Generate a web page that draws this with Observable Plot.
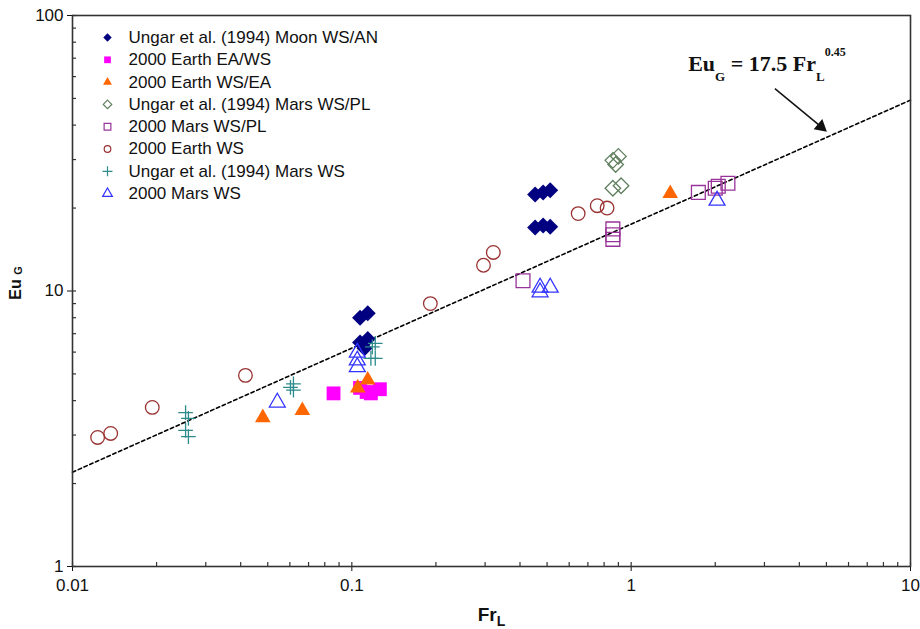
<!DOCTYPE html>
<html><head><meta charset="utf-8">
<script src="https://cdn.jsdelivr.net/npm/d3@7"></script>
<script src="https://cdn.jsdelivr.net/npm/@observablehq/plot@0.6"></script>
<style>body{margin:0;background:#fff}</style>
</head><body><div id="chart"></div>
<script>
// ---- data ----
const seriesNames = [
  "Ungar et al. (1994) Moon WS/AN",
  "2000 Earth EA/WS",
  "2000 Earth WS/EA",
  "Ungar et al. (1994) Mars WS/PL",
  "2000 Mars WS/PL",
  "2000 Earth WS",
  "Ungar et al. (1994) Mars WS",
  "2000 Mars WS"
];
const moonWSAN_x = [0.107, 0.114, 0.107, 0.114, 0.111, 0.453, 0.484, 0.513, 0.453, 0.484, 0.513];
const moonWSAN_y = [8.0, 8.3, 6.5, 6.7, 6.2, 22.4, 22.8, 23.2, 17.0, 17.3, 17.1];
const earthEAWS_x = [0.086, 0.107, 0.113, 0.117, 0.126];
const earthEAWS_y = [4.25, 4.45, 4.3, 4.25, 4.4];
const earthWSEA_x = [0.048, 0.0665, 0.105, 0.114, 1.38];
const earthWSEA_y = [3.47, 3.68, 4.45, 4.75, 22.6];
const ungarMarsWSPL_x = [0.86, 0.90, 0.88, 0.86, 0.92];
const ungarMarsWSPL_y = [29.8, 30.8, 28.8, 23.6, 24.1];
const marsWSPL_x = [0.41, 0.86, 0.86, 0.86, 1.74, 2.0, 2.05, 2.22];
const marsWSPL_y = [10.9, 16.8, 16.0, 15.4, 22.8, 23.6, 24.0, 24.6];
const earthWS_x = [0.0123, 0.0137, 0.0193, 0.0416, 0.191, 0.296, 0.321, 0.646, 0.756, 0.82];
const earthWS_y = [2.94, 3.04, 3.78, 4.94, 9.0, 12.4, 13.8, 19.1, 20.4, 20.0];
const ungarMarsWS_x = [0.0254, 0.026, 0.0254, 0.026, 0.0603, 0.0618, 0.0618, 0.1184, 0.1213, 0.1213, 0.117];
const ungarMarsWS_y = [3.62, 3.45, 3.12, 2.96, 4.47, 4.37, 4.6, 6.27, 6.45, 5.69, 5.69];
const marsWS_x = [0.0541, 0.1046, 0.1046, 0.1046, 0.472, 0.513, 0.472, 2.03];
const marsWS_y = [3.94, 5.98, 5.6, 5.3, 10.3, 10.3, 9.9, 21.3];

const fitLine_x = [0.01, 10];
const fitLine_y = [2.2, 49.3];

const xTicks = [0.01, 0.1, 1, 10];
const xTickLabels = ["0.01", "0.1", "1", "10"];
const yTicks = [1, 10, 100];
const yTickLabels = ["1", "10", "100"];
const xMinor = [0.02,0.03,0.04,0.05,0.06,0.07,0.08,0.09,0.2,0.3,0.4,0.5,0.6,0.7,0.8,0.9,2,3,4,5,6,7,8,9];
const yMinor = [2,3,4,5,6,7,8,9,20,30,40,50,60,70,80,90];

const equationText = "EuG = 17.5 FrL0.45";
const eqAnchor = {x: 1.60, y: 63};
const arrowFrom = {x: 3.27, y: 54.3};
const arrowTo = {x: 4.78, y: 39.5};

// ---- styles ----
const styles = [
  {symbol: "diamond2", color: "#000080", filled: true,  r: 7.2, lr: 3.8},
  {symbol: "square",   color: "#ff00ff", filled: true,  r: 7.8, lr: 3.8},
  {symbol: "triangle", color: "#ff6600", filled: true,  r: 5.8, lr: 3.3},
  {symbol: "diamond2", color: "#5f7f5f", filled: false, r: 7.0, lr: 3.8},
  {symbol: "square",   color: "#993399", filled: false, r: 7.8, lr: 3.8},
  {symbol: "circle",   color: "#993333", filled: false, r: 6.8, lr: 3.3},
  {symbol: "plus",     color: "#2e8b8b", filled: false, r: 4.8, lr: 3.3},
  {symbol: "triangle", color: "#3333ff", filled: false, r: 5.9, lr: 3.6}
];
const xs = [moonWSAN_x, earthEAWS_x, earthWSEA_x, ungarMarsWSPL_x, marsWSPL_x, earthWS_x, ungarMarsWS_x, marsWS_x];
const ys = [moonWSAN_y, earthEAWS_y, earthWSEA_y, ungarMarsWSPL_y, marsWSPL_y, earthWS_y, ungarMarsWS_y, marsWS_y];

const W = 920, H = 629, mL = 72, mR = 10, mT = 15, mB = 63;
const plotW = W - mL - mR, plotH = H - mT - mB;

const dotMarks = [];
const legendMarks = [];
seriesNames.forEach((name, i) => {
  const s = styles[i];
  const rows = xs[i].map((x, j) => ({x, y: ys[i][j]}));
  dotMarks.push(Plot.dot(rows, {
    x: "x", y: "y", symbol: s.symbol, r: s.r,
    fill: s.filled ? s.color : "none",
    stroke: s.filled ? "none" : s.color,
    strokeWidth: s.filled ? 0 : 1.3
  }));
  const dy = 22 + 22.3 * i;
  legendMarks.push(Plot.dot([name], {
    frameAnchor: "top-left", dx: 35, dy, symbol: s.symbol, r: s.lr,
    fill: s.filled ? s.color : "none",
    stroke: s.filled ? "none" : s.color,
    strokeWidth: s.filled ? 0 : 1.2
  }));
  legendMarks.push(Plot.text([name], {
    frameAnchor: "top-left", dx: 56, dy, text: d => d,
    textAnchor: "start", lineAnchor: "middle", fontSize: 17, fill: "#111"
  }));
});

const chart = Plot.plot({
  width: W, height: H,
  marginLeft: mL, marginRight: mR, marginTop: mT, marginBottom: mB,
  style: {fontFamily: "'Liberation Sans', Arial, sans-serif", fontSize: "17px", color: "#111", background: "#fff"},
  x: {type: "log", domain: [0.01, 10], ticks: xTicks, tickFormat: d => xTickLabels[xTicks.indexOf(d)], tickSize: 5, tickPadding: 7, label: null},
  y: {type: "log", domain: [1, 100], ticks: yTicks, tickFormat: d => yTickLabels[yTicks.indexOf(d)], tickSize: 5, tickPadding: 4, label: null},
  marks: [
    Plot.line(fitLine_x.map((x, i) => ({x, y: fitLine_y[i]})), {x: "x", y: "y", stroke: "#000", strokeWidth: 1.6, strokeDasharray: "3.5,2.8"}),
    ...dotMarks,
    Plot.frame({stroke: "#333", strokeWidth: 1.6}),
    Plot.tickX(xTicks.concat(xMinor), {x: d => d, insetTop: plotH - 4, stroke: "#333", strokeWidth: 1.2}),
    Plot.tickY(yTicks.concat(yMinor), {y: d => d, insetRight: plotW - 4, stroke: "#333", strokeWidth: 1.2}),
    ...legendMarks,
    Plot.text(["EuG"], {frameAnchor: "left", dx: -57, dy: -8, rotate: -90, text: d => d, fontWeight: "bold", fontSize: 16, textAnchor: "middle", lineAnchor: "middle", fill: "#111"}),
    Plot.text(["FrL"], {frameAnchor: "bottom", dy: 54, text: d => d, fontWeight: "bold", fontSize: 19, textAnchor: "middle", lineAnchor: "bottom", fill: "#111"}),
    Plot.link([0], {x1: () => arrowFrom.x, y1: () => arrowFrom.y, x2: () => arrowTo.x, y2: () => arrowTo.y, stroke: "#111", strokeWidth: 1.5}),
    Plot.dot([0], {x: () => arrowTo.x, y: () => arrowTo.y, symbol: "triangle", r: 5, rotate: 130, fill: "#111", stroke: "none"}),
    Plot.text([equationText], {x: () => eqAnchor.x, y: () => eqAnchor.y, text: d => d, textAnchor: "start", lineAnchor: "bottom", fontFamily: "'Liberation Serif', 'Times New Roman', serif", fontWeight: "bold", fontSize: 22, fill: "#111"})
  ]
});

// rich text: subscripts / superscripts
const svg = d3.select(chart);
function rich(content, parts) {
  svg.selectAll("text").filter(function() { return this.textContent === content; }).each(function() {
    const t = d3.select(this);
    t.text(null);
    for (const p of parts) {
      const ts = t.append("tspan").text(p.t);
      if (p.size) ts.attr("font-size", p.size);
      if (p.dy) ts.attr("dy", p.dy);
    }
  });
}
rich(equationText, [
  {t: "Eu"}, {t: "G", size: 13, dy: 10}, {t: " = 17.5 Fr", size: 22, dy: -10},
  {t: "L", size: 13, dy: 10}, {t: "0.45", size: 12, dy: -25}
]);
rich("EuG", [{t: "Eu "}, {t: "G", size: 11, dy: 1}]);
rich("FrL", [{t: "Fr"}, {t: "L", size: 14, dy: 5}]);

document.getElementById("chart").appendChild(chart);
</script>
</body></html>
